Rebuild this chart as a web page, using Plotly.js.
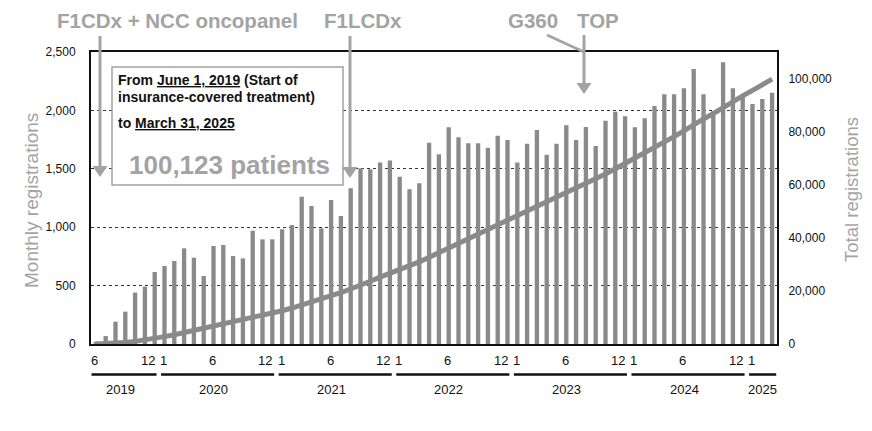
<!DOCTYPE html>
<html><head><meta charset="utf-8">
<script src="https://cdn.plot.ly/plotly-3.0.1.min.js"></script>
<style>html,body{margin:0;padding:0;background:#fff}#chart{width:872px;height:431px}</style>
</head><body><div id="chart"></div>
<script>
// ---------- DATA ----------
const months = [
 '2019-06','2019-07','2019-08','2019-09','2019-10','2019-11','2019-12',
 '2020-01','2020-02','2020-03','2020-04','2020-05','2020-06','2020-07','2020-08','2020-09','2020-10','2020-11','2020-12',
 '2021-01','2021-02','2021-03','2021-04','2021-05','2021-06','2021-07','2021-08','2021-09','2021-10','2021-11','2021-12',
 '2022-01','2022-02','2022-03','2022-04','2022-05','2022-06','2022-07','2022-08','2022-09','2022-10','2022-11','2022-12',
 '2023-01','2023-02','2023-03','2023-04','2023-05','2023-06','2023-07','2023-08','2023-09','2023-10','2023-11','2023-12',
 '2024-01','2024-02','2024-03','2024-04','2024-05','2024-06','2024-07','2024-08','2024-09','2024-10','2024-11','2024-12',
 '2025-01','2025-02','2025-03'
];
const monthly = [
 20, 68, 191, 277, 440, 491, 616,
 668, 711, 819, 739, 582, 839, 848, 753, 733, 970, 896, 896,
 982, 1019, 1261, 1182, 990, 1233, 1096, 1333, 1504, 1496, 1553, 1570,
 1433, 1324, 1376, 1724, 1624, 1855, 1770, 1718, 1718, 1681, 1784, 1747,
 1555, 1715, 1832, 1621, 1715, 1872, 1747, 1858, 1695, 1912, 1989, 1949,
 1855, 1932, 2038, 2138, 2138, 2189, 2355, 2138, 1995, 2412, 2189, 2117,
 2055, 2098, 2152
];
const total = [
 20, 88, 279, 556, 996, 1487, 2103,
 2771, 3482, 4301, 5040, 5622, 6461, 7309, 8062, 8795, 9765, 10661, 11557,
 12539, 13558, 14819, 16001, 16991, 18224, 19320, 20653, 22157, 23653, 25206, 26776,
 28209, 29533, 30909, 32633, 34257, 36112, 37882, 39600, 41318, 42999, 44783, 46530,
 48085, 49800, 51632, 53253, 54968, 56840, 58587, 60445, 62140, 64052, 66041, 67990,
 69845, 71777, 73815, 75953, 78091, 80280, 82635, 84773, 86768, 89180, 91369, 93486,
 95541, 97639, 99791
];
const monthTickCats = ['2019-06','2019-12','2020-01','2020-06','2020-12','2021-01','2021-06','2021-12',
 '2022-01','2022-06','2022-12','2023-01','2023-06','2023-12','2024-01','2024-06','2024-12','2025-01'];
const monthTickText = ['6','12','1','6','12','1','6','12','1','6','12','1','6','12','1','6','12','1'];
const years = ['2019','2020','2021','2022','2023','2024','2025'];
const events = ['F1CDx + NCC oncopanel','F1LCDx','G360','TOP'];
const boxLine1 = 'From <u>June 1, 2019</u> (Start of';
const boxLine2 = 'insurance-covered treatment)';
const boxLine3 = 'to <u>March 31, 2025</u>';
const boxBig = '100,123 patients';
const leftTicks = [0,500,1000,1500,2000,2500];
const rightTicks = [0,20000,40000,60000,80000,100000];

// ---------- LAYOUT HELPERS (decorations only) ----------
const L = 91, R = 95, T = 52, B = 87, W = 872, H = 431;
const PW = W - L - R, PH = H - T - B;
const PX = x => (x - L) / PW;
const PY = y => (H - B - y) / PH;
const FONT = 'Liberation Sans, Arial, sans-serif';
const GREY = '#8a8a8a';
const LGREY = '#a3a3a3';

const shapes = [];
const annotations = [];

// month tick labels
monthTickCats.forEach((c, i) => {
  annotations.push({
    x: months.indexOf(c), xref: 'x', y: PY(361), yref: 'paper',
    text: monthTickText[i], showarrow: false, xanchor: 'center', yanchor: 'middle',
    xshift: monthTickText[i] === '12' ? -7 : -1,
    font: {family: FONT, size: 13, color: '#111'}
  });
});
// year segments and labels
years.forEach((yr, k) => {
  let first = months.findIndex(m => m.startsWith(yr));
  let last = months.length - 1 - [...months].reverse().findIndex(m => m.startsWith(yr));
  let x0 = k === 0 ? first - 0.45 : first - 0.35;
  let x1 = k === years.length - 1 ? last + 0.42 : last + 0.19;
  shapes.push({type: 'line', xref: 'x', yref: 'paper', x0: x0, x1: x1, y0: PY(374.5), y1: PY(374.5),
    line: {color: '#111', width: 2.5}});
  annotations.push({x: (x0 + x1) / 2, xref: 'x', y: PY(389.5), yref: 'paper', text: yr, showarrow: false,
    xanchor: 'center', yanchor: 'middle', xshift: k === years.length - 1 ? 0 : -4,
    font: {family: FONT, size: 13, color: '#111'}});
});

// info box
shapes.push({type: 'rect', xref: 'paper', yref: 'paper', x0: PX(112), x1: PX(343), y0: PY(185), y1: PY(67),
  fillcolor: '#fff', line: {color: LGREY, width: 1.5}, layer: 'above'});
[[boxLine1, 80], [boxLine2, 96.7], [boxLine3, 123.3]].forEach(([t, y]) => {
  annotations.push({x: PX(116), xref: 'paper', y: PY(y), yref: 'paper', text: '<b>' + t + '</b>',
    showarrow: false, xanchor: 'left', yanchor: 'middle', font: {family: FONT, size: 14, color: '#111'}});
});
annotations.push({x: PX(229), xref: 'paper', y: PY(165), yref: 'paper', text: '<b>' + boxBig + '</b>',
  showarrow: false, xanchor: 'center', yanchor: 'middle', font: {family: FONT, size: 26, color: LGREY}});

// event labels
[[events[0], 177.5], [events[1], 362.5], [events[2], 532.5], [events[3], 597.5]].forEach(([t, x]) => {
  annotations.push({x: PX(x), xref: 'paper', y: PY(20), yref: 'paper', text: '<b>' + t + '</b>',
    showarrow: false, xanchor: 'center', yanchor: 'middle', font: {family: FONT, size: 20.5, color: LGREY}});
});
// arrows
function arrow(x, yTop, yTip) {
  shapes.push({type: 'line', xref: 'paper', yref: 'paper', x0: PX(x), x1: PX(x), y0: PY(yTop), y1: PY(yTip - 10),
    line: {color: LGREY, width: 3}, layer: 'above'});
  shapes.push({type: 'path', xref: 'paper', yref: 'paper',
    path: `M${PX(x - 7.5)},${PY(yTip - 11)} L${PX(x + 7.5)},${PY(yTip - 11)} L${PX(x)},${PY(yTip)} Z`,
    fillcolor: LGREY, line: {width: 0}, layer: 'above'});
}
arrow(100, 36, 177);
arrow(350, 36, 178);
arrow(584, 35, 94);
shapes.push({type: 'line', xref: 'paper', yref: 'paper', x0: PX(547), y0: PY(35), x1: PX(584), y1: PY(52),
  line: {color: LGREY, width: 2.5}, layer: 'above'});

// axis titles
annotations.push({x: PX(32), xref: 'paper', y: PY(201), yref: 'paper', text: 'Monthly registrations',
  textangle: -90, showarrow: false, xanchor: 'center', yanchor: 'middle', font: {family: FONT, size: 19, color: LGREY}});
annotations.push({x: PX(851), xref: 'paper', y: PY(190), yref: 'paper', text: 'Total registrations',
  textangle: -90, showarrow: false, xanchor: 'center', yanchor: 'middle', font: {family: FONT, size: 18.5, color: LGREY}});

const traces = [
  {type: 'bar', x: months, y: monthly, yaxis: 'y', marker: {color: GREY, line: {width: 0}}, hoverinfo: 'none'},
  {type: 'scatter', mode: 'lines', x: months, y: total, yaxis: 'y2', line: {color: GREY, width: 5}, hoverinfo: 'none'}
];

const layout = {
  width: W, height: H,
  margin: {l: L, r: R, t: T, b: B, pad: 0},
  paper_bgcolor: '#fff', plot_bgcolor: '#fff',
  showlegend: false, bargap: 0.56,
  font: {family: FONT, size: 12, color: '#111'},
  xaxis: {type: 'category', range: [-0.5, months.length - 0.5], showticklabels: false, ticks: '',
    showgrid: false, zeroline: false, showline: true, linecolor: '#111', linewidth: 2, mirror: true, fixedrange: true},
  yaxis: {range: [0, 2500], tickvals: leftTicks, tickformat: ',', showgrid: true, gridcolor: '#333', gridwidth: 1,
    griddash: '3px,3px', zeroline: false, showline: true, linecolor: '#111', linewidth: 2, ticks: '',
    ticklabelstandoff: 11, tickfont: {family: FONT, size: 12, color: '#111'}},
  yaxis2: {range: [0, 110000], tickvals: rightTicks, tickformat: ',', overlaying: 'y', side: 'right',
    showgrid: false, zeroline: false, showline: true, linecolor: '#111', linewidth: 2, ticks: '',
    ticklabelstandoff: 7, tickfont: {family: FONT, size: 12, color: '#111'}},
  shapes: shapes, annotations: annotations
};

Plotly.newPlot('chart', traces, layout, {staticPlot: true, displayModeBar: false});
</script>
</body></html>
